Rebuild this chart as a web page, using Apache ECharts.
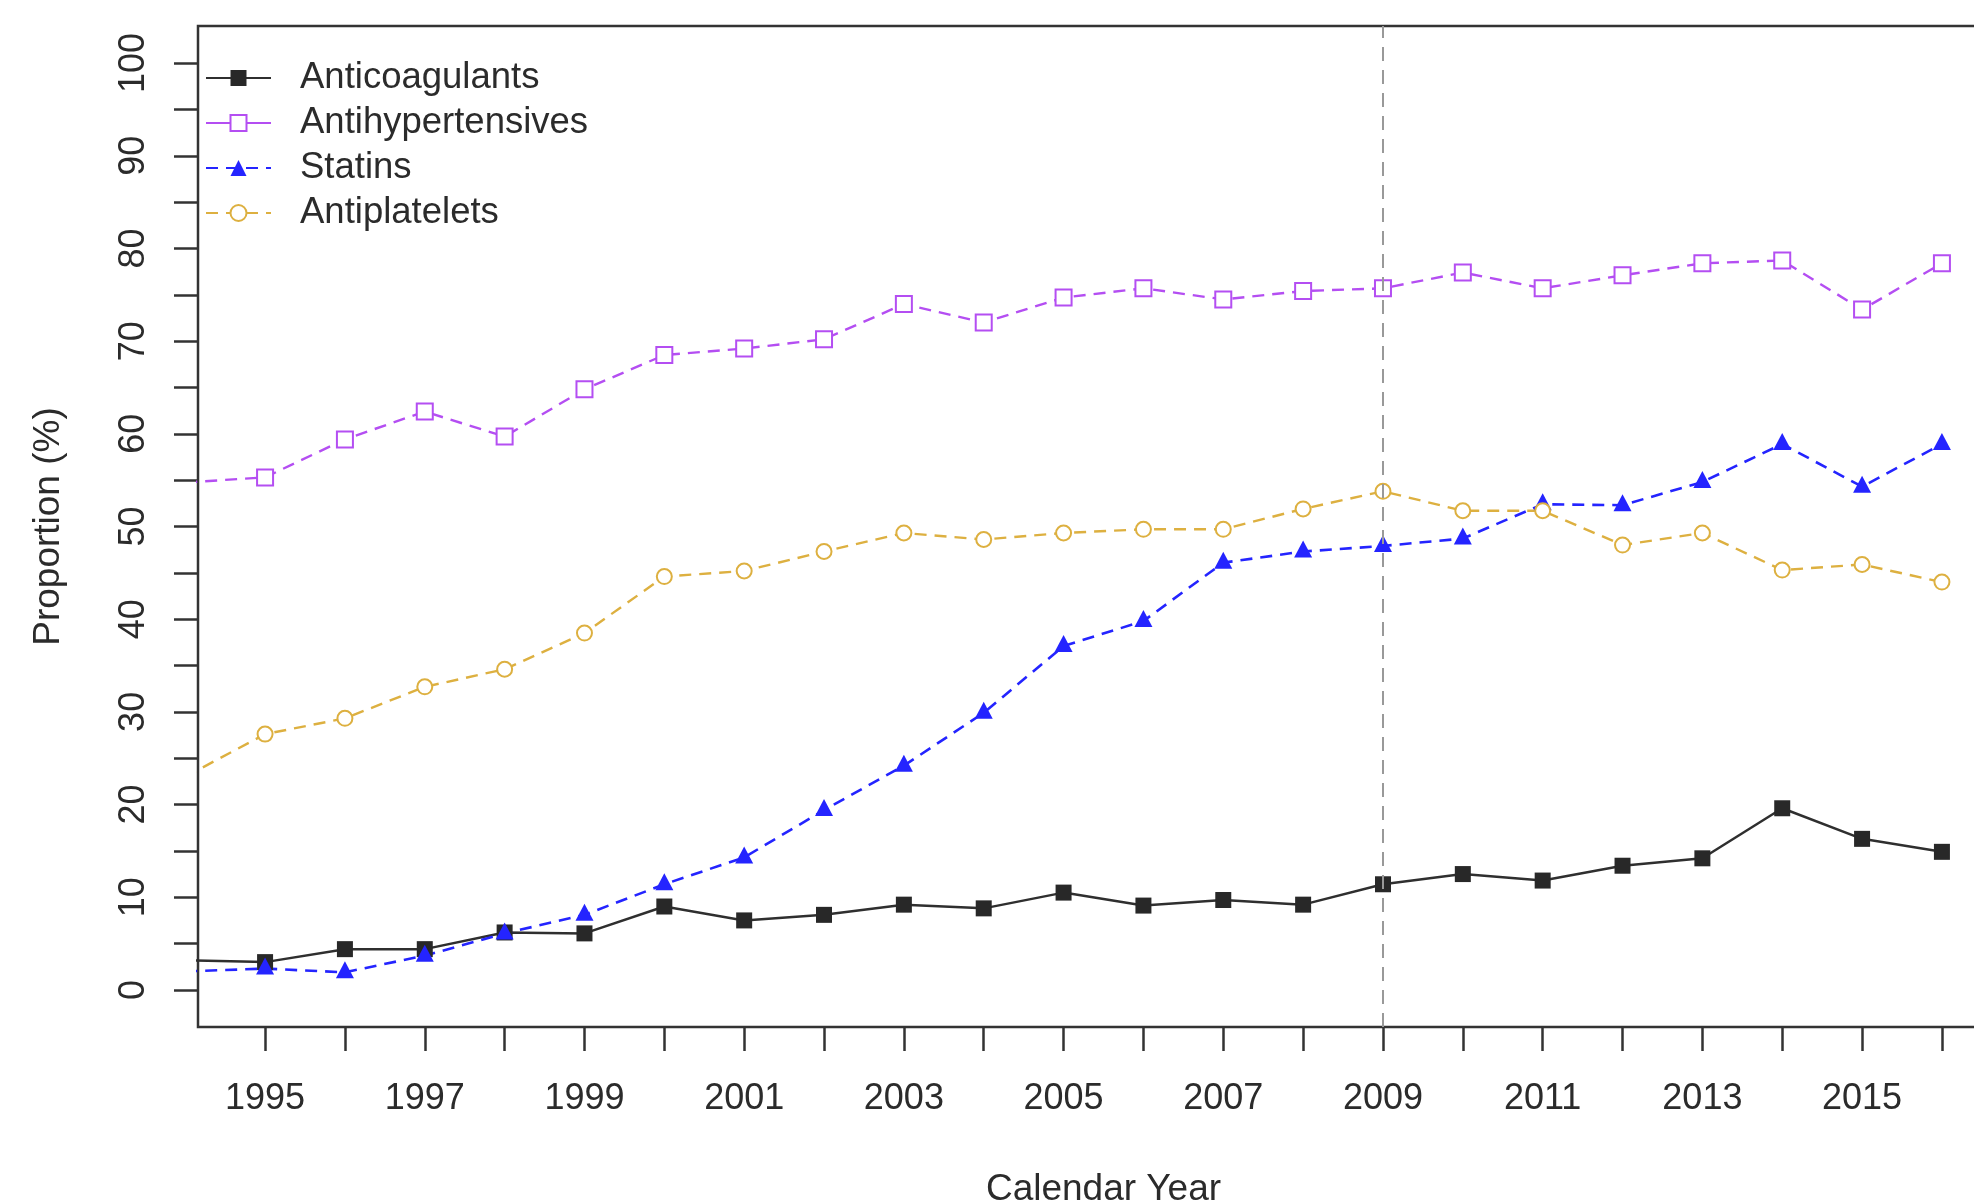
<!DOCTYPE html>
<html>
<head>
<meta charset="utf-8">
<script src="https://cdn.jsdelivr.net/npm/echarts@6/dist/echarts.min.js"></script>
<style>
  html, body { margin: 0; padding: 0; background: #fff; overflow: hidden; width: 1974px; height: 1202px; }
  #chart { width: 2040px; height: 1202px; }
</style>
</head>
<body>
<div id="chart"></div>
<script>
// Calendar years (the 1994 values sit just left of the plotted window and are clipped)
const years = [1994, 1995, 1996, 1997, 1998, 1999, 2000, 2001, 2002, 2003, 2004, 2005,
               2006, 2007, 2008, 2009, 2010, 2011, 2012, 2013, 2014, 2015, 2016];

// Proportion (%) per year for each drug class
const anticoagulants = [3.2, 3.0, 4.4, 4.4, 6.2, 6.1, 9.0, 7.5, 8.1, 9.2, 8.8, 10.5,
                        9.1, 9.7, 9.2, 11.4, 12.5, 11.8, 13.4, 14.2, 19.6, 16.3, 14.9];
const antihypertensives = [54.75, 55.3, 59.4, 62.4, 59.7, 64.8, 68.5, 69.2, 70.2, 74.0, 72.0, 74.7,
                           75.7, 74.5, 75.4, 75.7, 77.4, 75.7, 77.1, 78.4, 78.7, 73.4, 78.4];
const statins = [2.0, 2.3, 1.9, 3.7, 6.1, 8.1, 11.4, 14.3, 19.4, 24.2, 29.9, 37.1,
                 39.8, 46.1, 47.3, 47.9, 48.7, 52.4, 52.3, 54.8, 58.9, 54.3, 58.9];
const antiplatelets = [23.0, 27.6, 29.3, 32.7, 34.6, 38.5, 44.6, 45.2, 47.3, 49.3, 48.6, 49.3,
                       49.7, 49.7, 51.9, 53.8, 51.7, 51.7, 48.0, 49.3, 45.3, 45.9, 44.0];

// Axis ticks and labels
const xTickValues = [1995, 1996, 1997, 1998, 1999, 2000, 2001, 2002, 2003, 2004, 2005,
                     2006, 2007, 2008, 2009, 2010, 2011, 2012, 2013, 2014, 2015, 2016];
const xLabelValues = [1995, 1997, 1999, 2001, 2003, 2005, 2007, 2009, 2011, 2013, 2015];
const yTickValues = [0, 5, 10, 15, 20, 25, 30, 35, 40, 45, 50, 55, 60, 65, 70, 75, 80, 85, 90, 95, 100];
const yLabelValues = [0, 10, 20, 30, 40, 50, 60, 70, 80, 90, 100];

// Year marked with the vertical reference line
const referenceYear = 2009;

const FONT = '"Liberation Sans", Arial, sans-serif';
const TEXT = '#2b2b2b';
const AXIS = '#333333';
const DASH = [12, 8];

function pairs(values) {
  return years.map((y, i) => [y, values[i]]);
}

const chart = echarts.init(document.getElementById('chart'), null, { renderer: 'canvas' });

chart.setOption({
  animation: false,
  backgroundColor: '#ffffff',
  textStyle: { fontFamily: FONT },
  grid: {
    left: 198, top: 26, width: 1811, height: 1001,
    outerBoundsMode: 'none',
    show: true, borderColor: AXIS, borderWidth: 2.5, backgroundColor: 'transparent'
  },
  legend: {
    orient: 'vertical',
    left: 205, top: 59.5, padding: 0,
    itemWidth: 65, itemHeight: 20, itemGap: 8,
    textStyle: { fontFamily: FONT, fontSize: 36.5, color: TEXT, padding: [0, 0, 0, 24] },
    data: [
      { name: 'Anticoagulants' },
      { name: 'Antihypertensives', lineStyle: { type: 'solid' } },
      { name: 'Statins' },
      { name: 'Antiplatelets' }
    ]
  },
  xAxis: {
    type: 'value',
    min: 1994.16, max: 2016.84,
    name: 'Calendar Year',
    nameLocation: 'middle',
    nameGap: 144,
    nameTextStyle: { fontFamily: FONT, fontSize: 37, color: TEXT },
    axisLine: { show: false, onZero: false },
    splitLine: { show: false },
    axisTick: { show: true, inside: false, length: 24, customValues: xTickValues,
                lineStyle: { color: AXIS, width: 2.5 } },
    axisLabel: { show: true, customValues: xLabelValues, margin: 54,
                 fontFamily: FONT, fontSize: 36, color: TEXT,
                 formatter: v => String(v) }
  },
  yAxis: {
    type: 'value',
    min: -4, max: 104,
    name: 'Proportion (%)',
    nameLocation: 'middle',
    nameRotate: 90,
    nameGap: 131,
    nameTextStyle: { fontFamily: FONT, fontSize: 37, color: TEXT },
    axisLine: { show: false, onZero: false },
    splitLine: { show: false },
    axisTick: { show: true, inside: false, length: 24, customValues: yTickValues,
                lineStyle: { color: AXIS, width: 2.5 } },
    axisLabel: { show: true, customValues: yLabelValues, rotate: 90, margin: 46,
                 fontFamily: FONT, fontSize: 36, color: TEXT,
                 formatter: v => String(v) }
  },
  series: [
    {
      name: 'Anticoagulants', type: 'line', clip: true, showAllSymbol: true,
      data: pairs(anticoagulants),
      symbol: 'rect', symbolSize: 16,
      itemStyle: { color: '#282828' },
      lineStyle: { color: '#2f2f2f', width: 2.5, type: 'solid' },
      markLine: {
        silent: true, symbol: ['none', 'none'], label: { show: false },
        lineStyle: { color: '#999999', width: 2, type: [14, 9] },
        data: [{ xAxis: referenceYear }]
      }
    },
    {
      name: 'Antihypertensives', type: 'line', clip: true, showAllSymbol: true,
      data: pairs(antihypertensives),
      symbol: 'emptyRect', symbolSize: 16,
      itemStyle: { color: '#B44EF2', borderWidth: 2.2 },
      lineStyle: { color: '#B44EF2', width: 2.4, type: DASH }
    },
    {
      name: 'Statins', type: 'line', clip: true, showAllSymbol: true,
      data: pairs(statins),
      symbol: 'triangle', symbolSize: [18, 17], symbolOffset: [0, -2.5],
      itemStyle: { color: '#2424FF' },
      lineStyle: { color: '#2424FF', width: 2.6, type: DASH }
    },
    {
      name: 'Antiplatelets', type: 'line', clip: true, showAllSymbol: true,
      data: pairs(antiplatelets),
      symbol: 'emptyCircle', symbolSize: 15,
      itemStyle: { color: '#DDB040', borderWidth: 2.2 },
      lineStyle: { color: '#DDB040', width: 2.4, type: DASH }
    }
  ]
});
</script>
</body>
</html>
